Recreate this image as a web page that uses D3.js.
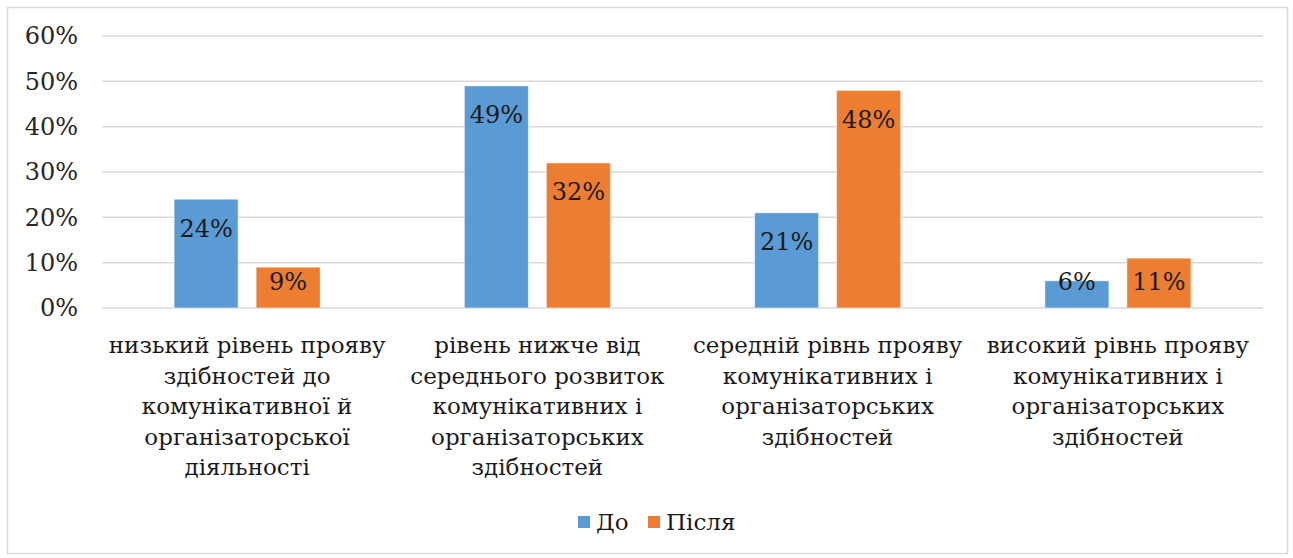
<!DOCTYPE html>
<html>
<head>
<meta charset="utf-8">
<script src="https://cdn.jsdelivr.net/npm/d3@7"></script>
<style>
  body { margin: 0; background: #fff; }
  text { font-family: "DejaVu Serif", serif; }
</style>
</head>
<body>
<div id="chart"></div>
<script>
const categories = [
    "низький рівень прояву\nздібностей до\nкомунікативної й\nорганізаторської\nдіяльності",
    "рівень нижче від\nсереднього розвиток\nкомунікативних і\nорганізаторських\nздібностей",
    "середній рівнь прояву\nкомунікативних і\nорганізаторських\nздібностей",
    "високий рівнь прояву\nкомунікативних і\nорганізаторських\nздібностей"
];
const seriesNames = ["До", "Після"];
const before = [0.24, 0.49, 0.21, 0.06];
const after = [0.09, 0.32, 0.48, 0.11];
const yTicks = [0, 0.1, 0.2, 0.3, 0.4, 0.5, 0.6];
const colors = ["#5b9bd5", "#ed7d31"];

const width = 1293;
const height = 558;
const plot = { left: 102, right: 1263, top: 36, bottom: 308 };

const rows = categories.map((c, i) => ({ cat: c, values: [before[i], after[i]] }));

const svg = d3.select("#chart")
    .append("svg")
    .attr("width", width)
    .attr("height", height);

// outer frame
svg.append("rect")
    .attr("x", 7.5).attr("y", 7.5)
    .attr("width", 1280).attr("height", 546)
    .attr("fill", "#fff")
    .attr("stroke", "#d9d9d9")
    .attr("stroke-width", 1.5);

const x0 = d3.scaleBand()
    .domain(categories)
    .range([plot.left, plot.right]);

const x1 = d3.scaleBand()
    .domain(seriesNames)
    .range([0, 146])
    .paddingInner(18 / 82);

const y = d3.scaleLinear()
    .domain([0, 0.6])
    .range([plot.bottom, plot.top]);

// gridlines
svg.append("g")
    .selectAll("line")
    .data(yTicks)
    .enter()
    .append("line")
    .attr("x1", plot.left).attr("x2", plot.right)
    .attr("y1", d => y(d)).attr("y2", d => y(d))
    .attr("stroke", "#d9d9d9")
    .attr("stroke-width", 1.5);

// y axis labels
const yAxis = svg.append("g")
    .attr("transform", `translate(${plot.left}, 0)`)
    .call(d3.axisLeft(y).tickValues(yTicks).tickFormat(d3.format(".0%")).tickSize(0).tickPadding(24));
yAxis.select(".domain").remove();
yAxis.selectAll("text")
    .attr("font-size", 24)
    .attr("fill", "#262626")
    .style("font-family", "DejaVu Serif, serif");

// bars
const group = svg.selectAll("g.group")
    .data(rows)
    .enter()
    .append("g")
    .classed("group", true)
    .attr("transform", d => `translate(${x0(d.cat) + (x0.bandwidth() - 146) / 2},0)`);

const bar = group.selectAll("g.bar")
    .data(d => d.values.map((v, j) => ({ v: v, s: seriesNames[j], j: j })))
    .enter()
    .append("g")
    .classed("bar", true);

bar.append("rect")
    .attr("x", d => x1(d.s))
    .attr("y", d => y(d.v))
    .attr("width", x1.bandwidth())
    .attr("height", d => y(0) - y(d.v))
    .attr("fill", d => colors[d.j])
    .attr("stroke", "#fff")
    .attr("stroke-opacity", 0.5)
    .attr("stroke-width", 1);

bar.append("text")
    .attr("x", d => x1(d.s) + x1.bandwidth() / 2)
    .attr("y", d => Math.min(y(d.v) + 29, y(0) - 26))
    .attr("dy", "0.35em")
    .attr("text-anchor", "middle")
    .attr("font-size", 24)
    .attr("fill", "#1a1a1a")
    .text(d => d3.format(".0%")(d.v));

// category labels
const catLabel = svg.selectAll("text.cat")
    .data(categories)
    .enter()
    .append("text")
    .classed("cat", true)
    .attr("text-anchor", "middle")
    .attr("font-size", 23)
    .attr("fill", "#1a1a1a");

catLabel.selectAll("tspan")
    .data(d => d.split("\n").map(line => ({ line: line, cat: d })))
    .enter()
    .append("tspan")
    .attr("x", d => x0(d.cat) + x0.bandwidth() / 2)
    .attr("y", (d, i) => 345 + i * 30.5)
    .attr("dy", "0.35em")
    .text(d => d.line);

// legend
const legend = svg.append("g")
    .attr("transform", "translate(578, 522)");
const legendX = [0, 70];
const item = legend.selectAll("g")
    .data(seriesNames)
    .enter()
    .append("g")
    .attr("transform", (d, i) => `translate(${legendX[i]},0)`);
item.append("rect")
    .attr("x", 0).attr("y", -6)
    .attr("width", 12).attr("height", 12)
    .attr("fill", (d, i) => colors[i]);
item.append("text")
    .attr("x", 18)
    .attr("dy", "0.35em")
    .attr("font-size", 23)
    .attr("fill", "#1a1a1a")
    .text(d => d);
</script>
</body>
</html>
